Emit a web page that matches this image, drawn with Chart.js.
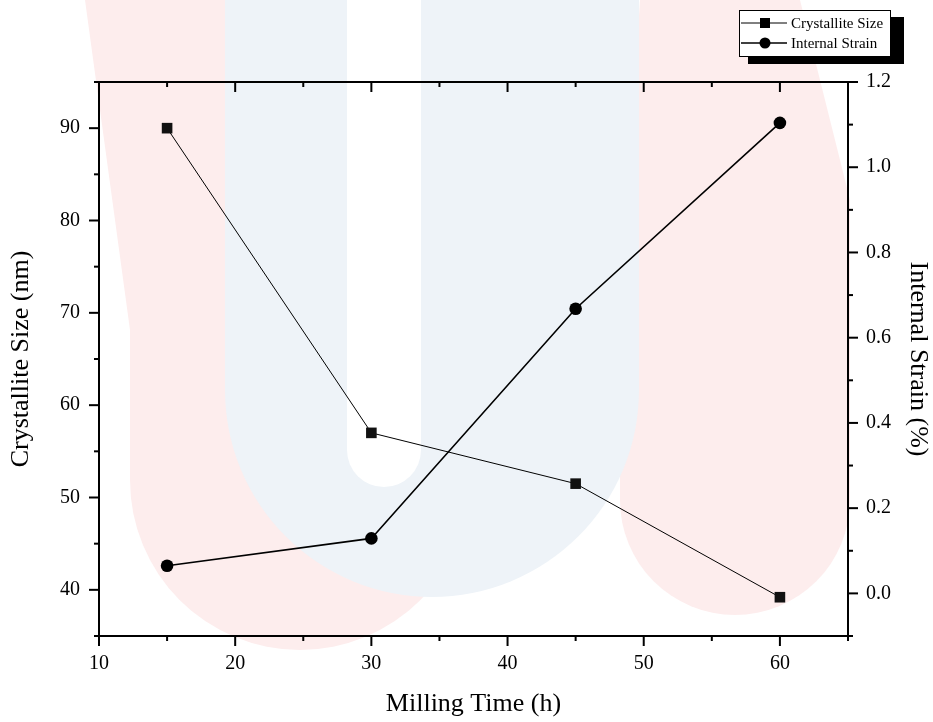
<!DOCTYPE html>
<html>
<head>
<meta charset="utf-8">
<script src="https://cdn.jsdelivr.net/npm/chart.js@4.4.0/dist/chart.umd.min.js"></script>
<style>
  html, body { margin: 0; padding: 0; background: #fff; }
  #wrap { width: 933px; height: 722px; }
</style>
</head>
<body>
<div id="wrap"><canvas id="chart" width="933" height="722"></canvas></div>
<script>
// values
const millingTime = [15, 30, 45, 60];
const crystalliteSize = [90.0, 57.0, 51.5, 39.2];
const internalStrain = [0.065, 0.129, 0.668, 1.104];

const xTickValues = [10, 20, 30, 40, 50, 60];
const yTickValues = [40, 50, 60, 70, 80, 90];
const y1TickValues = [0, 0.2, 0.4, 0.6, 0.8, 1.0, 1.2];
const xMinorTicks = [15, 25, 35, 45, 55, 65];
const yMinorTicks = [35, 45, 55, 65, 75, 85, 95];
const y1MinorTicks = [-0.1, 0.1, 0.3, 0.5, 0.7, 0.9, 1.1];

const serif = "'Liberation Serif', 'Times New Roman', serif";

// faint logo behind the plot
const watermark = {
  id: "watermark",
  beforeDraw(chart) {
    const ctx = chart.ctx;
    ctx.save();
    ctx.fillStyle = "#fff";
    ctx.fillRect(0, 0, chart.width, chart.height);
    ctx.fillStyle = "#fdeded";
    ctx.beginPath();
    ctx.moveTo(85, 0); ctx.lineTo(245, 0); ctx.lineTo(470, 330); ctx.lineTo(470, 480);
    ctx.arc(300, 480, 170, 0, Math.PI, false);
    ctx.lineTo(130, 330); ctx.closePath();
    ctx.fill();
    ctx.beginPath();
    ctx.moveTo(800, 0); ctx.lineTo(640, 0); ctx.lineTo(620, 330); ctx.lineTo(620, 500);
    ctx.arc(735, 500, 115, Math.PI, 0, true);
    ctx.lineTo(850, 200); ctx.closePath();
    ctx.fill();
    ctx.fillStyle = "#eef3f8";
    ctx.beginPath();
    ctx.moveTo(225, 0); ctx.lineTo(225, 390);
    ctx.arc(432, 390, 207, Math.PI, 0, true);
    ctx.lineTo(639, 0); ctx.closePath();
    ctx.fill();
    ctx.fillStyle = "#fff";
    ctx.beginPath();
    ctx.moveTo(347, 0); ctx.lineTo(347, 450);
    ctx.arc(384, 450, 37, Math.PI, 0, true);
    ctx.lineTo(421, 0); ctx.closePath();
    ctx.fill();
    ctx.restore();
  }
};

// frame, major + minor ticks, legend with shadow
const frame = {
  id: "frame",
  afterDraw(chart) {
    const ctx = chart.ctx;
    const a = chart.chartArea;
    const sx = chart.scales.x, sy = chart.scales.y, sy1 = chart.scales.y1;
    ctx.save();
    ctx.strokeStyle = "#000";
    ctx.lineWidth = 2;
    ctx.strokeRect(a.left, a.top, a.right - a.left, a.bottom - a.top);

    const tick = (x1, y1, x2, y2) => {
      ctx.beginPath(); ctx.moveTo(x1, y1); ctx.lineTo(x2, y2); ctx.stroke();
    };
    sx.ticks.forEach(t => {
      const px = sx.getPixelForValue(t.value);
      tick(px, a.bottom, px, a.bottom + 10);
      tick(px, a.top, px, a.top + 10);
    });
    xMinorTicks.forEach(v => {
      const px = sx.getPixelForValue(v);
      tick(px, a.bottom, px, a.bottom + 5);
      tick(px, a.top, px, a.top + 5);
    });
    sy.ticks.forEach(t => {
      const py = sy.getPixelForValue(t.value);
      tick(a.left, py, a.left - 10, py);
    });
    yMinorTicks.forEach(v => {
      const py = sy.getPixelForValue(v);
      tick(a.left, py, a.left - 5, py);
    });
    sy1.ticks.forEach(t => {
      const py = sy1.getPixelForValue(t.value);
      tick(a.right, py, a.right + 10, py);
    });
    y1MinorTicks.forEach(v => {
      const py = sy1.getPixelForValue(v);
      tick(a.right, py, a.right + 5, py);
    });

    // legend
    ctx.fillStyle = "#000";
    ctx.fillRect(748, 17, 156, 47);
    ctx.fillStyle = "#fff";
    ctx.fillRect(739, 10, 152, 47);
    ctx.lineWidth = 1;
    ctx.strokeRect(739.5, 10.5, 151, 46);
    ctx.font = "15px " + serif;
    ctx.textBaseline = "middle";
    const rows = [23, 43];
    chart.data.datasets.forEach((ds, i) => {
      const y = rows[i];
      ctx.strokeStyle = "#000";
      ctx.lineWidth = i === 0 ? 1 : 1.5;
      tick(741, y, 787, y);
      ctx.fillStyle = "#000";
      if (ds.pointStyle === "rect") {
        ctx.fillRect(760, y - 5, 10, 10);
      } else {
        ctx.beginPath(); ctx.arc(765, y, 5.5, 0, Math.PI * 2); ctx.fill();
      }
      ctx.fillText(ds.label, 791, y + 1);
    });
    ctx.restore();
  }
};

const setTicks = values => scale => {
  scale.ticks = values.map(v => ({ value: v }));
};

new Chart(document.getElementById("chart"), {
  type: "line",
  data: {
    datasets: [
      {
        label: "Crystallite Size",
        data: millingTime.map((t, i) => ({ x: t, y: crystalliteSize[i] })),
        yAxisID: "y",
        borderColor: "#000",
        borderWidth: 1,
        backgroundColor: "#111",
        pointStyle: "rect",
        pointRadius: 7.5,
        pointBorderWidth: 0,
        tension: 0
      },
      {
        label: "Internal Strain",
        data: millingTime.map((t, i) => ({ x: t, y: internalStrain[i] })),
        yAxisID: "y1",
        borderColor: "#000",
        borderWidth: 1.6,
        backgroundColor: "#000",
        pointStyle: "circle",
        pointRadius: 6.3,
        pointBorderWidth: 0,
        tension: 0
      }
    ]
  },
  options: {
    responsive: false,
    animation: false,
    layout: { padding: { top: 82, left: 0, right: 0, bottom: 0 } },
    plugins: {
      legend: { display: false },
      tooltip: { enabled: false }
    },
    scales: {
      x: {
        type: "linear",
        min: 10,
        max: 65,
        afterBuildTicks: setTicks(xTickValues),
        afterFit: s => { s.height = 86; },
        grid: { display: false, drawTicks: false },
        border: { display: false },
        ticks: {
          padding: 16,
          color: "#000",
          font: { family: serif, size: 20 }
        },
        title: {
          display: true,
          text: "Milling Time (h)",
          color: "#000",
          font: { family: serif, size: 26 },
          padding: { top: 0, bottom: 2 }
        }
      },
      y: {
        position: "left",
        min: 35,
        max: 95,
        afterBuildTicks: setTicks(yTickValues),
        afterFit: s => { s.width = 99; },
        grid: { display: false, drawTicks: false },
        border: { display: false },
        ticks: {
          padding: 19,
          color: "#000",
          font: { family: serif, size: 20 }
        },
        title: {
          display: true,
          text: "Crystallite Size (nm)",
          color: "#000",
          font: { family: serif, size: 26 },
          padding: { top: 6, bottom: 0 }
        }
      },
      y1: {
        position: "right",
        min: -0.1,
        max: 1.2,
        afterBuildTicks: setTicks(y1TickValues),
        afterFit: s => { s.width = 85; },
        grid: { display: false, drawTicks: false },
        border: { display: false },
        ticks: {
          padding: 18,
          color: "#000",
          font: { family: serif, size: 20 },
          callback: v => v.toFixed(1)
        },
        title: {
          display: true,
          text: "Internal Strain (%)",
          color: "#000",
          font: { family: serif, size: 26 },
          padding: { top: 0, bottom: 0 }
        }
      }
    }
  },
  plugins: [watermark, frame]
});
</script>
</body>
</html>
